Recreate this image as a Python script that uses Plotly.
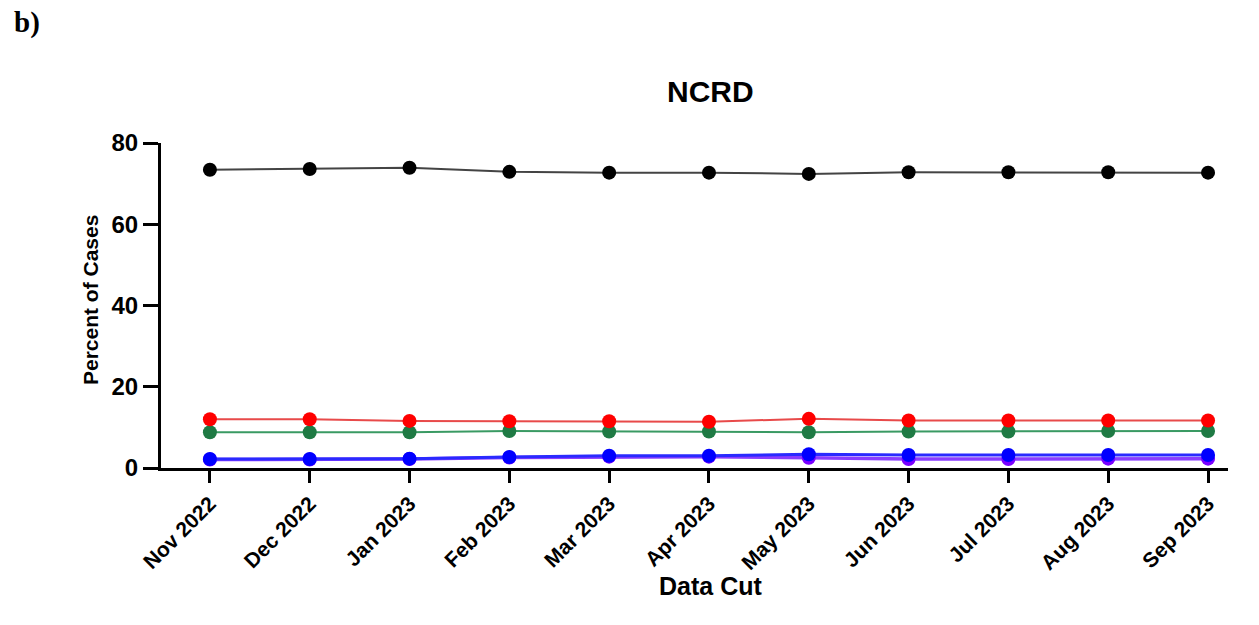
import plotly.graph_objects as go

# Monthly data cuts
months = ["Nov 2022", "Dec 2022", "Jan 2023", "Feb 2023", "Mar 2023", "Apr 2023",
          "May 2023", "Jun 2023", "Jul 2023", "Aug 2023", "Sep 2023"]

# Percent of cases per group at each data cut
group_black = [73.4, 73.6, 73.9, 72.9, 72.7, 72.7, 72.4, 72.8, 72.8, 72.8, 72.7]
group_red = [12.0, 12.0, 11.6, 11.5, 11.5, 11.4, 12.1, 11.7, 11.7, 11.7, 11.7]
group_green = [8.8, 8.8, 8.8, 9.1, 9.0, 9.0, 8.8, 9.0, 9.0, 9.1, 9.1]
group_blue = [2.2, 2.2, 2.3, 2.7, 3.0, 3.0, 3.4, 3.2, 3.2, 3.2, 3.2]
group_purple = [2.1, 2.1, 2.2, 2.6, 2.8, 2.8, 2.5, 2.2, 2.2, 2.3, 2.3]

y_ticks = [0, 20, 40, 60, 80]

FONT = "Liberation Sans, Arial, sans-serif"

# Page geometry (pixels)
W, H = 1259, 625
ML, MR, MT, MB = 161, 31, 143, 157
PW, PH = W - ML - MR, H - MT - MB


def px_x(x):
    return (x - ML) / PW


def px_y(y):
    return (H - MB - y) / PH


series = [
    ("Group E", group_purple, "#7a00ff", "#8a3cff", 3.5),
    ("Group D", group_blue, "#0000ff", "#2a2aff", 3.0),
    ("Group C", group_green, "#1f7a44", "#3a9a63", 2.0),
    ("Group B", group_red, "#ff0000", "#e84a4a", 2.0),
    ("Group A", group_black, "#000000", "#444444", 2.0),
]

fig = go.Figure()
for name, vals, mcol, lcol, lw in series:
    fig.add_trace(go.Scatter(
        x=list(range(len(months))), y=vals, name=name, mode="lines+markers",
        line=dict(color=lcol, width=lw),
        marker=dict(color=mcol, size=14),
        cliponaxis=False,
    ))

fig.update_layout(
    width=W, height=H,
    margin=dict(l=ML, r=MR, t=MT, b=MB),
    paper_bgcolor="white", plot_bgcolor="white",
    showlegend=False,
    font=dict(family=FONT, color="black"),
    xaxis=dict(
        range=[-0.49, 10.2],
        tickmode="array", tickvals=list(range(len(months))),
        ticktext=[f"<b>{m}</b>" for m in months],
        tickangle=-45, tickfont=dict(family=FONT, size=21, color="black"),
        ticks="outside", ticklen=12, tickwidth=3, tickcolor="black",
        showline=True, linecolor="black", linewidth=3,
        showgrid=False, zeroline=False,
    ),
    yaxis=dict(
        range=[0, 80],
        tickmode="array", tickvals=y_ticks,
        ticktext=[f"<b>{v}</b>" for v in y_ticks],
        tickfont=dict(family=FONT, size=24, color="black"),
        ticks="outside", ticklen=15, tickwidth=3, tickcolor="black",
        showline=True, linecolor="black", linewidth=3,
        showgrid=False, zeroline=False,
    ),
)

# Chart title
fig.add_annotation(
    text="<b>NCRD</b>", xref="paper", yref="paper",
    x=px_x(710), y=px_y(91), xanchor="center", yanchor="middle", showarrow=False,
    font=dict(family=FONT, size=30, color="black"),
)
# Axis titles
fig.add_annotation(
    text="<b>Data Cut</b>", xref="paper", yref="paper",
    x=px_x(710), y=px_y(586), xanchor="center", yanchor="middle", showarrow=False,
    font=dict(family=FONT, size=25, color="black"),
)
fig.add_annotation(
    text="<b>Percent of Cases</b>", xref="paper", yref="paper", textangle=-90,
    x=px_x(90), y=px_y(300), xanchor="center", yanchor="middle", showarrow=False,
    font=dict(family=FONT, size=21, color="black"),
)
# Panel label
fig.add_annotation(
    text="<b>b)</b>", xref="paper", yref="paper",
    x=px_x(12), y=px_y(22), xanchor="left", yanchor="middle", showarrow=False,
    font=dict(family="Liberation Serif, Times New Roman, serif", size=29, color="black"),
)

fig.write_html("out.html")
